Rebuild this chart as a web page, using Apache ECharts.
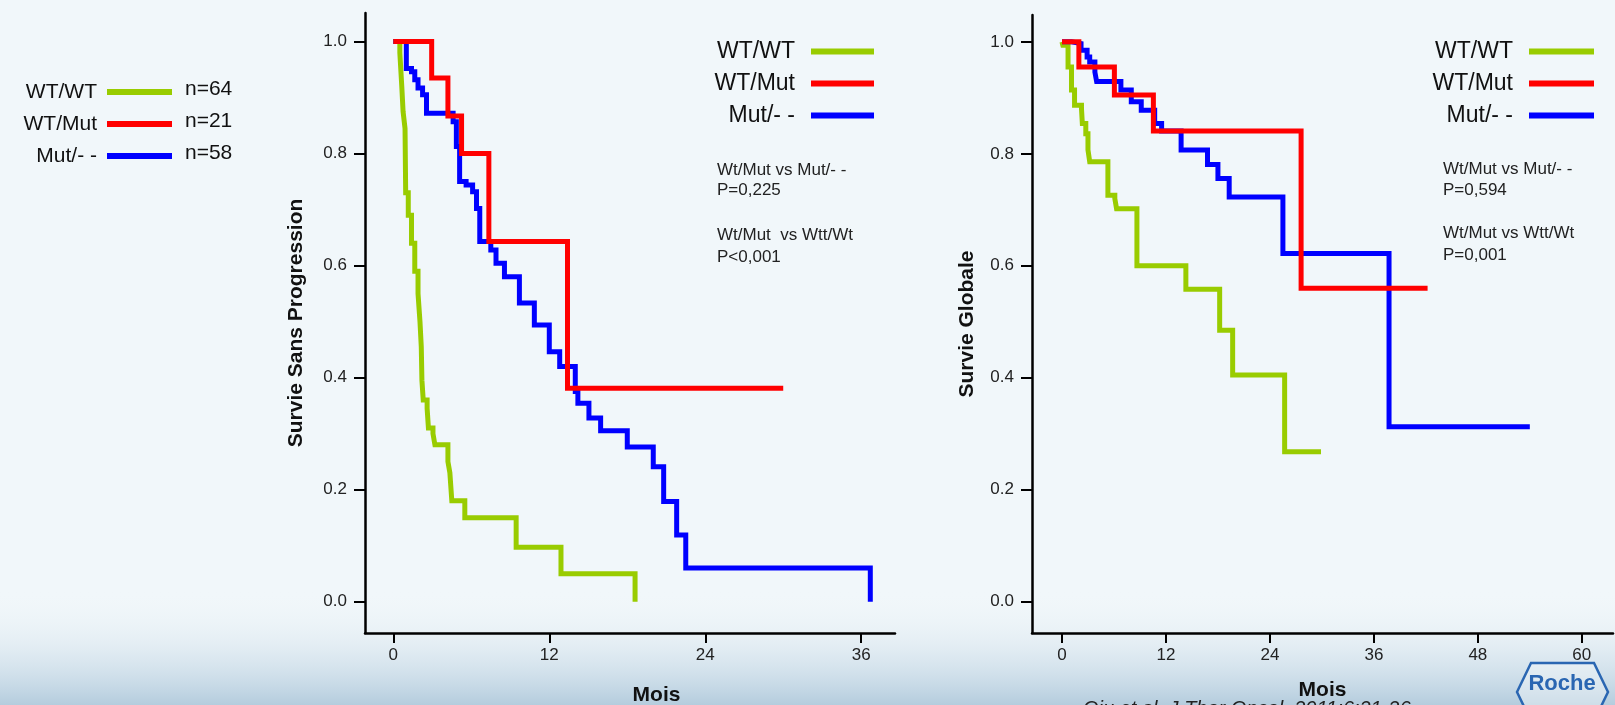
<!DOCTYPE html>
<html>
<head>
<meta charset="utf-8">
<script src="https://cdn.jsdelivr.net/npm/echarts@6/dist/echarts.min.js"></script>
<style>
html,body{margin:0;padding:0;background:#f1f7fa;}
#c{width:1615px;height:705px;}
</style>
</head>
<body>
<div id="c"></div>
<script>
// ---------- data ----------
const seriesNames = ['WT/WT', 'WT/Mut', 'Mut/- -'];
const nCounts = [64, 21, 58];
const yTicks = [0, 0.2, 0.4, 0.6, 0.8, 1.0];
const pfsXTicks = [0, 12, 24, 36];
const osXTicks = [0, 12, 24, 36, 48, 60];

// Progression-free survival (months, survival)
const pfsWtWt = [[0,1],[0.5,0.98],[0.65,0.92],[0.75,0.875],[0.9,0.845],[0.95,0.73],[1.15,0.69],[1.4,0.64],[1.65,0.59],[1.9,0.55],[2.05,0.5],[2.15,0.455],[2.2,0.395],[2.3,0.36],[2.6,0.345],[2.7,0.31],[3.05,0.3],[3.2,0.28],[4.2,0.25],[4.35,0.23],[4.5,0.18],[5.5,0.15],[9.45,0.097],[12.9,0.05],[18.6,0]];
const pfsWtMut = [[0,1],[2.95,0.935],[4.2,0.867],[5.25,0.8],[7.35,0.643],[13.4,0.381],[30.0,0.381]];
const pfsMut = [[0,1],[1.0,0.952],[1.4,0.946],[1.65,0.932],[1.9,0.917],[2.25,0.905],[2.55,0.872],[4.6,0.857],[4.85,0.8125],[5.1,0.75],[5.6,0.744],[6.1,0.732],[6.4,0.702],[6.65,0.643],[7.5,0.628],[7.9,0.604],[8.55,0.58],[9.7,0.533],[10.85,0.494],[12.0,0.446],[12.8,0.42],[14.0,0.375],[14.2,0.354],[15.05,0.328],[15.95,0.305],[18.0,0.276],[20.0,0.241],[20.8,0.179],[21.8,0.119],[22.5,0.06],[36.7,0]];

// Overall survival (months, survival)
const osWtWt = [[0,1],[0.1,0.994],[0.7,0.955],[1.1,0.914],[1.45,0.887],[2.25,0.881],[2.35,0.854],[2.75,0.836],[3.0,0.807],[3.2,0.786],[5.3,0.726],[6.1,0.72],[6.3,0.702],[8.65,0.6],[14.3,0.558],[18.2,0.485],[19.7,0.405],[25.7,0.268],[29.9,0.268]];
const osWtMut = [[0,1],[1.95,0.955],[6.05,0.905],[10.55,0.841],[27.6,0.56],[42.2,0.56]];
const osMut = [[0,1],[1.1,0.997],[2.2,0.985],[2.9,0.973],[3.2,0.964],[3.8,0.946],[4.0,0.929],[6.8,0.914],[8.0,0.893],[9.15,0.878],[10.7,0.854],[11.5,0.841],[13.75,0.807],[16.8,0.781],[18.0,0.756],[19.3,0.723],[25.5,0.622],[37.75,0.3125],[54.0,0.3125]];

const pfsNotes = ['Wt/Mut vs Mut/- -', 'P=0,225', 'Wt/Mut  vs Wtt/Wt', 'P<0,001'];
const osNotes = ['Wt/Mut vs Mut/- -', 'P=0,594', 'Wt/Mut vs Wtt/Wt', 'P=0,001'];
const pfsTitle = 'Survie Sans Progression';
const osTitle = 'Survie Globale';
const xTitle = 'Mois';
const citation = 'Qiu et al, J Thor Oncol. 2011;6:21-26';

// ---------- styles ----------
const FONT = '"Liberation Sans", Arial, sans-serif';
const colors = {'WT/WT': '#99cc00', 'WT/Mut': '#ff0000', 'Mut/- -': '#0000ff'};

function yAxisCfg(gridIndex, name, max, gap) {
  return {
    type: 'value', gridIndex: gridIndex, min: -0.056, max: max,
    name: name, nameLocation: 'middle', nameGap: gap,
    nameTextStyle: {fontSize: 21, fontWeight: 'bold', color: '#111', fontFamily: FONT},
    axisLine: {show: true, onZero: false, lineStyle: {color: '#000', width: 2.5}},
    axisTick: {show: true, length: 11, customValues: yTicks, lineStyle: {color: '#000', width: 2}},
    axisLabel: {customValues: yTicks, formatter: v => v.toFixed(1), fontSize: 17, color: '#222', margin: 18, fontFamily: FONT},
    splitLine: {show: false}
  };
}
function xAxisCfg(gridIndex, ticks, min, max, gap, padLeft) {
  return {
    type: 'value', gridIndex: gridIndex, min: min, max: max,
    name: xTitle, nameLocation: 'middle', nameGap: gap,
    nameTextStyle: {fontSize: 21, fontWeight: 'bold', color: '#111', fontFamily: FONT, padding: [0, 0, 0, padLeft]},
    axisLine: {show: true, onZero: false, lineStyle: {color: '#000', width: 2.5}},
    axisTick: {show: true, length: 10, customValues: ticks, lineStyle: {color: '#000', width: 2}},
    axisLabel: {customValues: ticks, fontSize: 17, color: '#222', margin: 14, fontFamily: FONT},
    splitLine: {show: false}
  };
}
function km(name, data, axis) {
  return {
    type: 'line', name: name, data: data, step: 'end',
    xAxisIndex: axis, yAxisIndex: axis,
    symbol: 'none', showSymbol: false, silent: true, animation: false,
    itemStyle: {color: colors[name]},
    lineStyle: {color: colors[name], width: 5, cap: 'butt', join: 'miter'}
  };
}
function legendCfg(right, top, padRight, fontSize, iconW) {
  return {
    data: seriesNames, orient: 'vertical', align: 'right', right: right, top: top,
    padding: 0,
    icon: 'rect', itemWidth: iconW, itemHeight: 6, itemGap: 8,
    selectedMode: false,
    textStyle: {fontSize: fontSize, lineHeight: 24, color: '#111', fontFamily: FONT, padding: [0, padRight, 0, 0]}
  };
}
function noteTexts(notes, x, ys) {
  return notes.map((t, i) => ({
    type: 'text', x: x, y: ys[i],
    style: {text: t, font: '17px ' + FONT, fill: '#222', verticalAlign: 'middle'}
  }));
}

const graphics = [
  {type: 'rect', z: -10, shape: {x: 0, y: 590, width: 1615, height: 115},
   style: {fill: new echarts.graphic.LinearGradient(0, 0, 0, 1, [
     {offset: 0, color: 'rgba(241,247,250,0)'},
     {offset: 1, color: 'rgba(160,190,212,0.75)'}])}},
  ...nCounts.map((n, i) => ({
    type: 'text', x: 185, y: 89 + i * 32.3,
    style: {text: 'n=' + n, font: '21px ' + FONT, fill: '#111', verticalAlign: 'middle'}
  })),
  ...noteTexts(pfsNotes, 717, [170, 190, 235, 257]),
  ...noteTexts(osNotes, 1443, [169, 190, 233, 255]),
  {type: 'polygon', shape: {points: [[1517,692],[1531,663],[1594,663],[1608,692],[1594,721],[1531,721]]},
   style: {fill: 'rgba(255,255,255,0.35)', stroke: '#2a66b2', lineWidth: 2.5}},
  {type: 'text', x: 1562, y: 684,
   style: {text: 'Roche', font: 'bold 22px ' + FONT, fill: '#2a66b2', align: 'center', verticalAlign: 'middle'}},
  {type: 'text', x: 1083, y: 699,
   style: {text: citation, font: 'italic 20px ' + FONT, fill: '#222', verticalAlign: 'top'}}
];

const chart = echarts.init(document.getElementById('c'), null, {renderer: 'canvas'});
chart.setOption({
  backgroundColor: '#f1f7fa',
  animation: false,
  grid: [
    {left: 365, top: 13, width: 530, height: 620, containLabel: false, outerBoundsMode: 'none'},
    {left: 1032, top: 15, width: 581, height: 618, containLabel: false, outerBoundsMode: 'none'}
  ],
  xAxis: [
    xAxisCfg(0, pfsXTicks, -2.18, 38.6, 52, 53),
    xAxisCfg(1, osXTicks, -3.46, 63.6, 47, 0)
  ],
  yAxis: [
    yAxisCfg(0, pfsTitle, 1.051, 58),
    yAxisCfg(1, osTitle, 1.048, 54)
  ],
  legend: [
    legendCfg(741, 39.5, 11, 23, 63),
    legendCfg(21, 39.5, 11, 23, 65),
    legendCfg(1443, 80, 5, 21, 65)
  ],
  series: [
    km('WT/WT', pfsWtWt, 0),
    km('Mut/- -', pfsMut, 0),
    km('WT/Mut', pfsWtMut, 0),
    km('WT/WT', osWtWt, 1),
    km('Mut/- -', osMut, 1),
    km('WT/Mut', osWtMut, 1)
  ],
  graphic: graphics
});
</script>
</body>
</html>
